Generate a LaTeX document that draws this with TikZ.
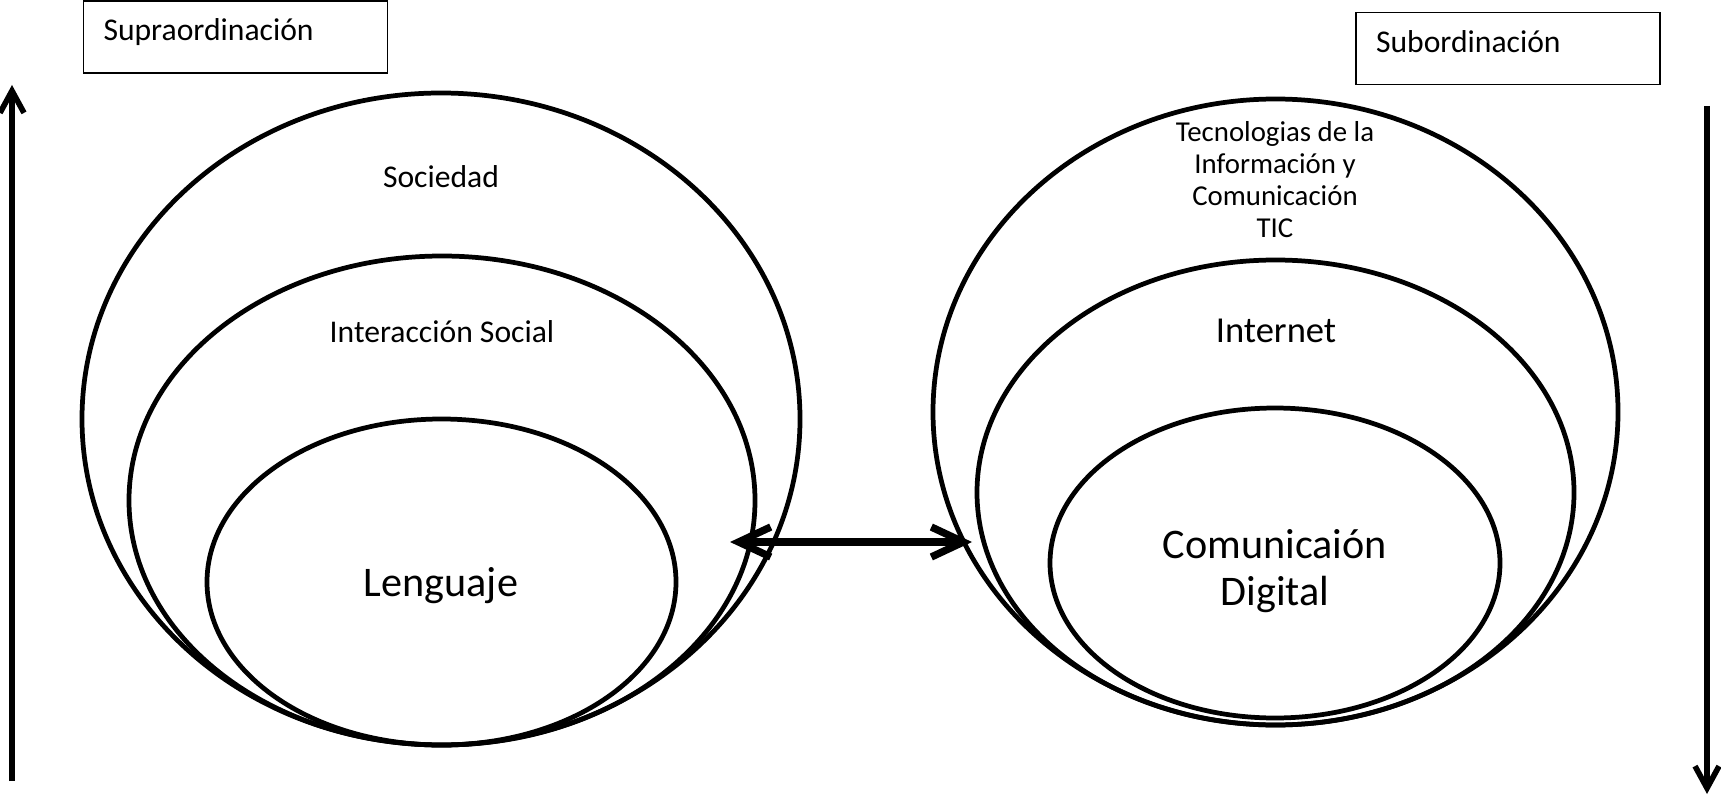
\documentclass[tikz,border=0pt]{standalone}
\usepackage{fontspec}
\setmainfont{Carlito}
\usepackage{xcolor}
\usepackage{tikz}
\usetikzlibrary{arrows.meta,positioning,calc}
\definecolor{ink}{HTML}{000000}
\tikzset{
  ring/.style={draw=ink, line width=1.35pt},
  tagbox/.style={draw=ink, line width=0.5pt, text=ink, text width=2.64cm, align=left,
    inner xsep=0.2cm, minimum height=0.72cm, text depth=0.14cm, font=\fontsize{9}{11}\selectfont},
  ringname/.style={text=ink, font=\fontsize{9}{11}\selectfont, anchor=base},
  ticname/.style={text=ink, font=\fontsize{8.2}{9.1}\selectfont, align=center},
  netname/.style={text=ink, font=\fontsize{10.4}{12.5}\selectfont, anchor=base},
  corename/.style={text=ink, font=\fontsize{12}{13.5}\selectfont, align=center},
  sidearr/.style={-{Straight Barb[length=2.2mm, width=2.4mm]}, draw=ink, line width=1.6pt},
  linkarr/.style={{Straight Barb[length=3.2mm, width=3mm]}-{Straight Barb[length=3.2mm, width=3mm]},
    draw=ink, line width=2.1pt}
}

\begin{document}
\begin{tikzpicture}
  \useasboundingbox (0,0) rectangle (17.21,7.99);

  % left rings
  \draw[ring] (4.41,3.80) ellipse (3.59 and 3.26);
  \draw[ring] (4.42,2.985) ellipse (3.13 and 2.445);
  \draw[ring] (4.415,2.17) ellipse (2.345 and 1.63);

  % right rings
  \draw[ring] (12.755,3.87) ellipse (3.425 and 3.13);
  \draw[ring] (12.755,3.065) ellipse (2.985 and 2.325);
  \draw[ring] (12.75,2.36) ellipse (2.25 and 1.55);

  \node[tagbox] (supra) at (2.355,7.62) {Supraordinación};
  \node[tagbox] (subor) at (15.08,7.505) {Subordinación};

  \node[ringname] (soc) at (4.41,6.12) {Sociedad};
  \node[ringname] (inter) at (4.42,4.57) {Interacción Social};
  \node[corename, anchor=base] (leng) at (4.41,2.03) {Lenguaje};

  \node[ticname] (tic) at (12.75,6.19) {Tecnologias de la\\Información y\\Comunicación\\TIC};
  \node[netname] (net) at (12.76,4.57) {Internet};
  \node[corename] (digi) at (12.75,2.28) {Comunicaión\\Digital};

  \coordinate (lenglink) at (7.30,2.57);
  \coordinate (diglink) at (9.72,2.57);
  \draw[linkarr] (lenglink) -- (diglink);

  \coordinate (upfoot) at (0.12,0.18);
  \coordinate (uptip) at (0.12,7.14);
  \draw[sidearr] (upfoot) -- (uptip);

  \coordinate (downtop) at (17.07,6.93);
  \coordinate (downtip) at (17.07,0.05);
  \draw[sidearr] (downtop) -- (downtip);
\end{tikzpicture}
\end{document}
